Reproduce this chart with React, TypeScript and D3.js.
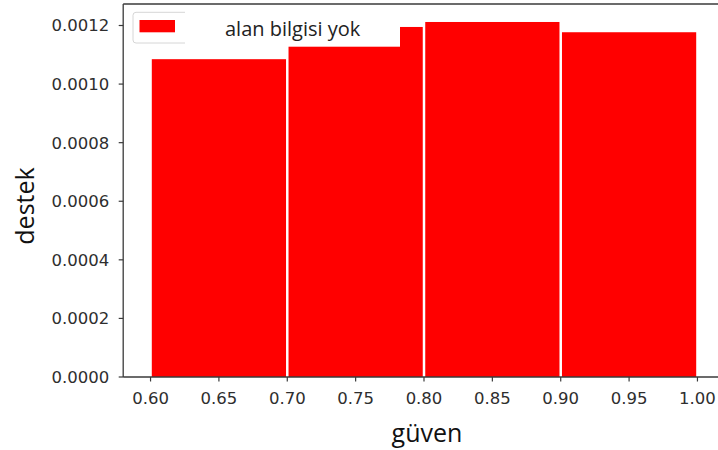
import React from "react";
import * as d3 from "d3";

const binStarts = [0.6, 0.7, 0.8, 0.9];
const binWidth = 0.1;
const supportValues = [0.001085, 0.001195, 0.001212, 0.001177];
const xTicks = [0.6, 0.65, 0.7, 0.75, 0.8, 0.85, 0.9, 0.95, 1.0];
const yTicks = [0, 0.0002, 0.0004, 0.0006, 0.0008, 0.001, 0.0012];
const legendLabel = "alan bilgisi yok";
const xLabel = "güven";
const yLabel = "destek";

const W = 718;
const H = 450;
const left = 123.2;
const right = 724.8;
const top = 4;
const bottom = 377;

export default function App() {
  const x = d3.scaleLinear().domain([0.58, 1.02]).range([left, right]);
  const y = d3.scaleLinear().domain([0, 0.0012734]).range([bottom, top]);
  const gap = 1.25;
  const tickFont = "'DejaVu Sans', sans-serif";
  const labelFont = "'Open Sans', sans-serif";
  const spine = "#3a3a3a";

  return (
    <svg
      width={W}
      height={H}
      viewBox={`0 0 ${W} ${H}`}
      style={{ position: "absolute", left: 0, top: 0, background: "#fff" }}
    >
      <rect x={0} y={0} width={W} height={H} fill="#fff" />
      {binStarts.map((s, i) => (
        <rect
          key={i}
          x={x(s) + gap}
          width={x(s + binWidth) - x(s) - 2 * gap}
          y={y(supportValues[i])}
          height={y(0) - y(supportValues[i])}
          fill="#ff0000"
        />
      ))}
      {/* spines */}
      <line x1={left} x2={left} y1={top} y2={bottom} stroke={spine} strokeWidth={1.3} />
      <line x1={left} x2={right} y1={bottom} y2={bottom} stroke={spine} strokeWidth={1.3} />
      <line x1={left} x2={right} y1={top} y2={top} stroke={spine} strokeWidth={1.3} />
      <line x1={right} x2={right} y1={top} y2={bottom} stroke={spine} strokeWidth={1.3} />
      {/* y ticks */}
      {yTicks.map((t) => (
        <g key={t}>
          <line x1={left - 4.5} x2={left} y1={y(t)} y2={y(t)} stroke={spine} strokeWidth={1.2} />
          <text
            x={left - 14}
            y={y(t)}
            dy="0.36em"
            textAnchor="end"
            fontFamily={tickFont}
            fontSize={16.5}
            fill="#2e2e2e"
          >
            {t.toFixed(4)}
          </text>
        </g>
      ))}
      {/* x ticks */}
      {xTicks.map((t) => (
        <g key={t}>
          <line x1={x(t)} x2={x(t)} y1={bottom} y2={bottom + 4.5} stroke={spine} strokeWidth={1.2} />
          <text
            x={x(t)}
            y={403.5}
            textAnchor="middle"
            fontFamily={tickFont}
            fontSize={16.5}
            fill="#2e2e2e"
          >
            {t.toFixed(2)}
          </text>
        </g>
      ))}
      {/* axis labels */}
      <text
        x={427}
        y={441.5}
        textAnchor="middle"
        fontFamily={labelFont}
        fontSize={25}
        fill="#111"
      >
        {xLabel}
      </text>
      <text
        transform={`translate(34,206) rotate(-90)`}
        textAnchor="middle"
        fontFamily={labelFont}
        fontSize={25}
        fill="#111"
      >
        {yLabel}
      </text>
      {/* legend */}
      <rect
        x={133}
        y={12.3}
        width={200}
        height={30.7}
        rx={3}
        fill="#fff"
        fillOpacity={0.8}
        stroke="#d6d6d6"
        strokeWidth={1}
      />
      <rect x={139.5} y={20} width={35.5} height={12.3} fill="#ff0000" />
      <rect x={185} y={8} width={215} height={38.7} fill="#fff" />
      <text x={225} y={35.5} fontFamily={labelFont} fontSize={20} fill="#222">
        {legendLabel}
      </text>
    </svg>
  );
}
